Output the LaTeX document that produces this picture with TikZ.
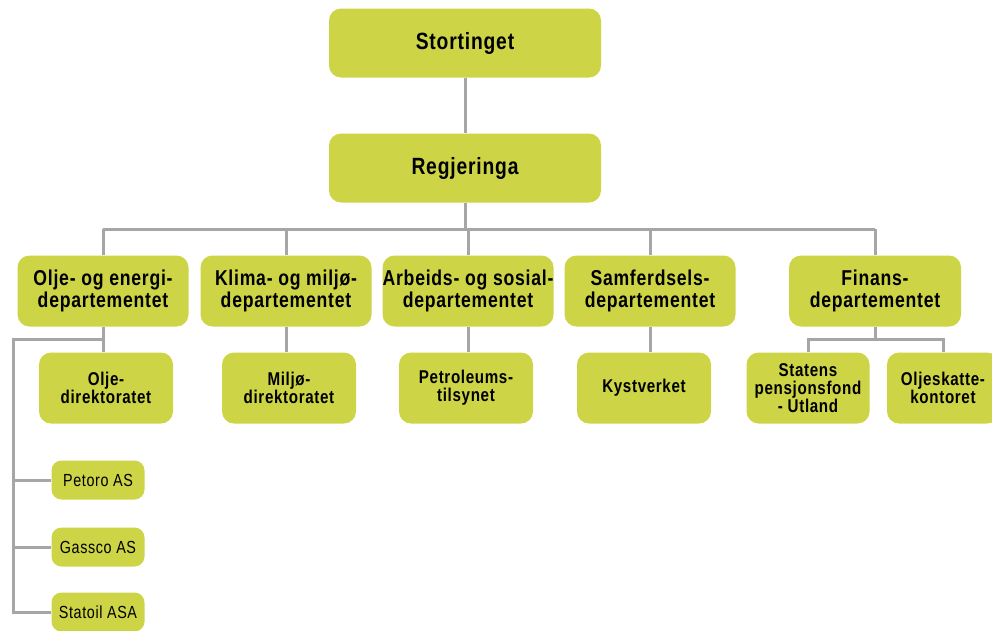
\documentclass[tikz,border=0pt]{standalone}
\usepackage{fontspec}
\newfontfamily\nar{Liberation Sans}[FakeStretch=0.82,LetterSpace=3.5]
\definecolor{boxfill}{RGB}{205,212,70}
\definecolor{linegray}{RGB}{166,166,166}
\begin{document}
\begin{tikzpicture}[x=1pt,y=-1pt,
  box/.style={fill=boxfill,draw=none,rounded corners=12pt,align=center,inner sep=0pt,font=\nar\bfseries},
  top/.style={box,minimum width=272pt,minimum height=69pt,font=\nar\bfseries\fontsize{23.5}{24}\selectfont},
  dept/.style={box,minimum width=171pt,minimum height=71pt,font=\nar\bfseries\fontsize{21.5}{22}\selectfont},
  sub/.style={box,minimum width=134pt,minimum height=71pt,font=\nar\bfseries\fontsize{18.5}{18}\selectfont},
  small/.style={box,rounded corners=10pt,minimum width=93pt,minimum height=39pt,font=\nar\fontsize{17.5}{18}\selectfont},
  conn/.style={draw=linegray,line width=3pt}]
\useasboundingbox (0,0) rectangle (992,630);
\node[top] (stort) at (465,43) {Stortinget};
\node[top] (reg) at (465,168) {Regjeringa};
\node[dept] (olje) at (103,291) {Olje- og energi-\\departementet};
\node[dept] (klima) at (286,291) {Klima- og milj\o-\\departementet};
\node[dept] (arb) at (468,291) {Arbeids- og sosial-\\departementet};
\node[dept] (samf) at (650,291) {Samferdsels-\\departementet};
\node[dept, minimum width=172pt] (fin) at (875,291) {Finans-\\departementet};
\node[sub] (oljedir) at (106,388) {Olje-\\direktoratet};
\node[sub] (miljo) at (289,388) {Milj\o-\\direktoratet};
\node[sub] (petro) at (466,388) {Petroleums-\\tilsynet};
\node[sub] (kyst) at (644,388) {Kystverket};
\node[sub, minimum width=123pt] (statens) at (808,388) {Statens\\pensjonsfond\\- Utland};
\node[sub, minimum width=112pt] (skatt) at (943,388) {Oljeskatte-\\kontoret};
\node[small] (petoro) at (98,480) {Petoro AS};
\node[small] (gassco) at (98,547) {Gassco AS};
\node[small] (statoil) at (98,612) {Statoil ASA};
\coordinate (busy) at (0,229);
\coordinate (ol) at (13,339);
\coordinate (fb) at (0,339);
\draw[conn] (stort.south) -- (reg.north);
\draw[conn] (reg.south) -- (reg.south |- busy);
\draw[conn] (olje.north |- busy) -- (fin.north |- busy);
\foreach \d in {olje,klima,arb,samf,fin} \draw[conn] (\d.north) -- (\d.north |- busy);
\draw[conn] (olje.south) -- (olje.south |- oljedir.north);
\draw[conn] (klima.south) -- (klima.south |- miljo.north);
\draw[conn] (arb.south) -- (arb.south |- petro.north);
\draw[conn] (samf.south) -- (samf.south |- kyst.north);
\draw[conn] (fin.south) -- (fin.south |- fb);
\draw[conn] (statens.north) -- (statens.north |- fb) -- (skatt.north |- fb) -- (skatt.north);
\draw[conn] (olje.south |- ol) -- (ol) -- (ol |- statoil) -- (statoil.west);
\draw[conn] (ol |- petoro) -- (petoro.west);
\draw[conn] (ol |- gassco) -- (gassco.west);
\end{tikzpicture}
\end{document}
